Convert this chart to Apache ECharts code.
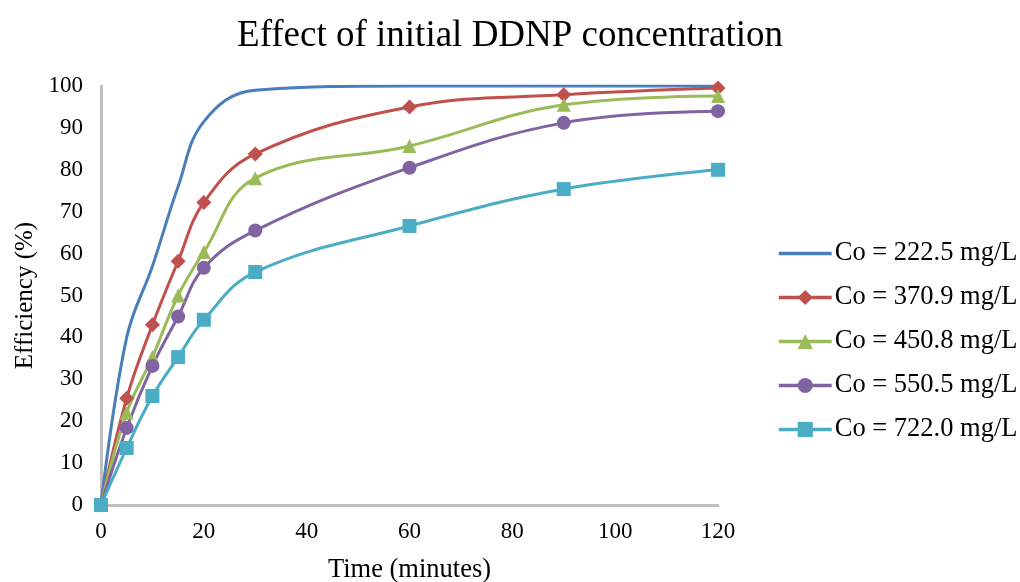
<!DOCTYPE html>
<html>
<head>
<meta charset="utf-8">
<script src="https://cdn.jsdelivr.net/npm/echarts@6/dist/echarts.min.js"></script>
<style>
  html, body { margin: 0; padding: 0; background: #fff; }
  #chart { width: 1020px; height: 582px; }
</style>
</head>
<body>
<div id="chart"></div>
<script>
// time points (minutes)
var times = [0, 5, 10, 15, 20, 30, 60, 90, 120]

// efficiency (%) for each initial concentration
var co2225 = [0, 40, 57, 76, 91.5, 99, 100, 100, 100]
var co3709 = [0, 25.5, 43, 58.2, 72.2, 83.8, 95, 97.9, 99.5]
var co4508 = [0, 22, 35.3, 50, 60.4, 78, 85.7, 95.5, 97.6]
var co5505 = [0, 18.4, 33.2, 45, 56.6, 65.5, 80.5, 91.2, 94]
var co7220 = [0, 13.6, 26, 35.3, 44.2, 55.6, 66.6, 75.4, 80]

var seriesNames = ['Co = 222.5 mg/L', 'Co = 370.9 mg/L', 'Co = 450.8 mg/L', 'Co = 550.5 mg/L', 'Co = 722.0 mg/L']

var font = '"Liberation Serif", "Times New Roman", serif'

function pairs(vals) {
  return vals.map(function (v, i) { return [times[i], v] })
}

function makeSeries(name, vals, color, symbol, size) {
  return {
    name: name,
    type: 'line',
    smooth: 0.4,
    data: pairs(vals),
    symbol: symbol,
    symbolSize: size,
    showSymbol: symbol !== 'none',
    lineStyle: { color: color, width: 3 },
    itemStyle: { color: color },
    emphasis: { disabled: true }
  }
}

var chart = echarts.init(document.getElementById('chart'))

var option = {
  animation: false,
  title: {
    text: 'Effect of initial DDNP concentration',
    left: 'center',
    top: 13,
    textStyle: { fontFamily: font, fontSize: 37, fontWeight: 'normal', color: '#000' }
  },
  legend: {
    orient: 'vertical',
    left: 772,
    top: 235,
    itemWidth: 53,
    itemHeight: 19,
    itemGap: 17,
    lineStyle: { width: 3.5 },
    data: [
      // first series has no marker, hide the legend symbol
      { name: seriesNames[0], itemStyle: { opacity: 0 } },
      seriesNames[1], seriesNames[2], seriesNames[3], seriesNames[4]
    ],
    textStyle: { fontFamily: font, fontSize: 26.5, color: '#000', lineHeight: 27, padding: [0, 0, 0, -2] }
  },
  grid: {
    left: 101,
    right: 302,
    top: 86,
    bottom: 77,
    containLabel: false,
    outerBoundsMode: 'none'
  },
  xAxis: {
    type: 'value',
    min: 0,
    max: 120,
    interval: 20,
    name: 'Time (minutes)',
    nameLocation: 'middle',
    nameGap: 52,
    nameTextStyle: { fontFamily: font, fontSize: 26.5, color: '#000' },
    splitLine: { show: false },
    axisTick: { show: false },
    axisLine: { lineStyle: { color: '#BFBFBF', width: 3 } },
    axisLabel: { fontFamily: font, fontSize: 23, color: '#000', margin: 15 }
  },
  yAxis: {
    type: 'value',
    min: 0,
    max: 100,
    interval: 10,
    name: 'Efficiency (%)',
    nameLocation: 'middle',
    nameGap: 63,
    nameTextStyle: { fontFamily: font, fontSize: 25, color: '#000' },
    splitLine: { show: false },
    axisTick: { show: false },
    axisLine: { show: true, lineStyle: { color: '#BFBFBF', width: 3 } },
    axisLabel: { fontFamily: font, fontSize: 23, color: '#000', margin: 18 }
  },
  series: [
    makeSeries(seriesNames[0], co2225, '#4A7EBB', 'none', 0),
    makeSeries(seriesNames[1], co3709, '#C0504D', 'diamond', 15),
    makeSeries(seriesNames[2], co4508, '#9BBB59', 'triangle', 14),
    makeSeries(seriesNames[3], co5505, '#8064A2', 'circle', 14),
    makeSeries(seriesNames[4], co7220, '#4BACC6', 'rect', 14)
  ]
}

chart.setOption(option)
</script>
</body>
</html>
